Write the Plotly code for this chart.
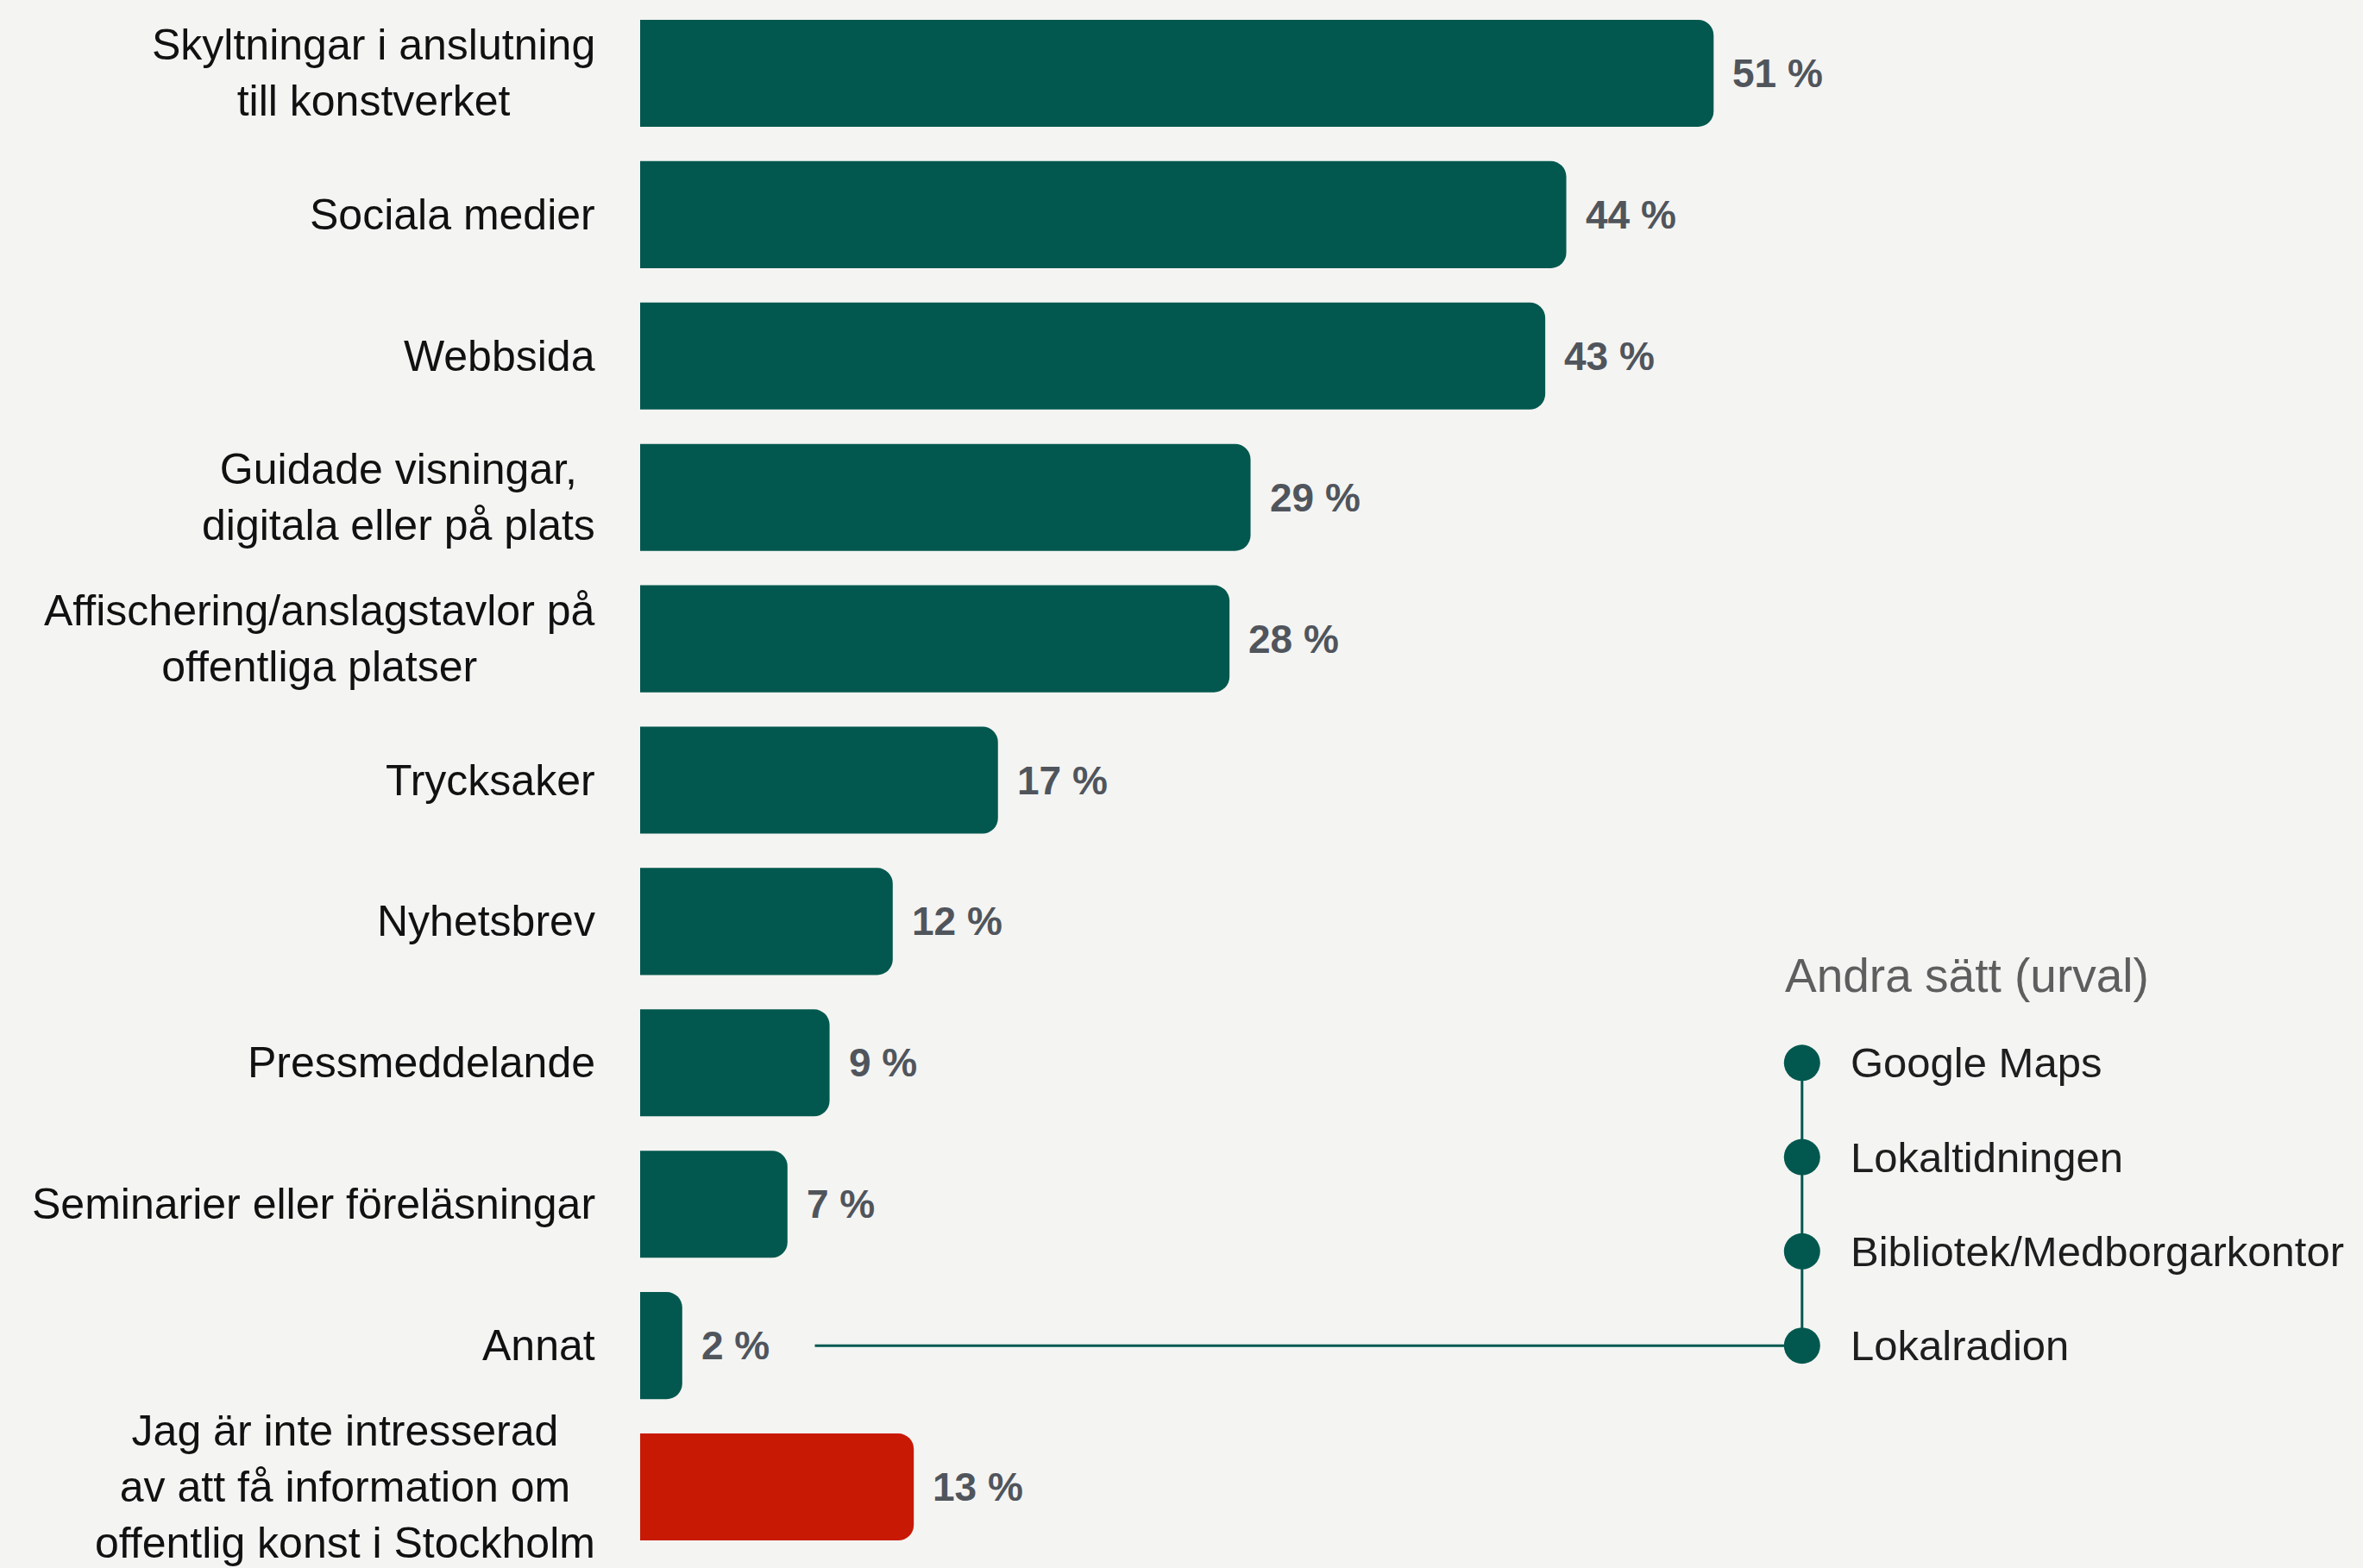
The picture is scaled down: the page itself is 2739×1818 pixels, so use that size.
import plotly.graph_objects as go

categories = [
    "Skyltningar i anslutning<br>till konstverket",
    "Sociala medier",
    "Webbsida",
    "Guidade visningar,<br>digitala eller på plats",
    "Affischering/anslagstavlor på<br>offentliga platser",
    "Trycksaker",
    "Nyhetsbrev",
    "Pressmeddelande",
    "Seminarier eller föreläsningar",
    "Annat",
    "Jag är inte intresserad<br>av att få information om<br>offentlig konst i Stockholm",
]
values = [51, 44, 43, 29, 28, 17, 12, 9, 7, 2, 13]

other_title = "Andra sätt (urval)"
other_ways = ["Google Maps", "Lokaltidningen", "Bibliotek/Medborgarkontor", "Lokalradion"]

GREEN = "#02584F"
RED = "#C81905"
BG = "#F4F4F2"
FONT = "Liberation Sans, Arial, sans-serif"

bar_colors = [GREEN] * (len(values) - 1) + [RED]
idx = list(range(len(categories)))

fig = go.Figure()

fig.add_trace(go.Bar(
    x=values, y=idx, orientation="h",
    marker=dict(color=bar_colors, cornerradius=18, line=dict(width=0)),
    hoverinfo="skip",
))

# category labels (centered multi-line, right edge near the bars)
for i, cat in enumerate(categories):
    fig.add_annotation(
        x=0, y=i, xref="x", yref="y", text=cat, showarrow=False,
        xanchor="right", yanchor="middle", align="center", xshift=-50,
        font=dict(family=FONT, size=50, color="#111111"),
    )

# value labels
for i, v in enumerate(values):
    fig.add_annotation(
        x=v, y=i, xref="x", yref="y", text=f"{v} %", showarrow=False,
        xanchor="left", yanchor="middle", xshift=20,
        font=dict(family=FONT, size=46, color="#50555C", weight="bold"),
    )

# "Andra sätt" side panel, hanging off the "Annat" row
annat = categories.index("Annat")
step = 2 / 3
pos = [annat - step * (len(other_ways) - 1 - k) for k in range(len(other_ways))]
dot_x = 55.2
line_start = 8.3

fig.add_trace(go.Scatter(
    x=[line_start, dot_x, dot_x], y=[annat, annat, pos[0]], yaxis="y2",
    mode="lines", line=dict(color=GREEN, width=3), hoverinfo="skip",
))
fig.add_trace(go.Scatter(
    x=[dot_x] * len(pos), y=pos, yaxis="y2", mode="markers",
    marker=dict(color=GREEN, size=42), hoverinfo="skip",
))
for p, name in zip(pos, other_ways):
    fig.add_annotation(
        x=dot_x, y=p, xref="x", yref="y2", text=name, showarrow=False,
        xanchor="left", yanchor="middle", xshift=54,
        font=dict(family=FONT, size=49, color="#1E1E1E"),
    )
fig.add_annotation(
    x=dot_x, y=pos[0] - 0.62, xref="x", yref="y2", text=other_title, showarrow=False,
    xanchor="left", yanchor="middle", xshift=-22,
    font=dict(family=FONT, size=55, color="#5E5E5E"),
)

yr = [len(categories) - 0.5, -0.5]
fig.update_layout(
    width=2739, height=1818,
    paper_bgcolor=BG, plot_bgcolor=BG,
    margin=dict(l=742, r=0, t=3, b=12),
    showlegend=False, bargap=0.243,
    xaxis=dict(range=[0, 81.85], visible=False, fixedrange=True),
    yaxis=dict(range=yr, visible=False, fixedrange=True),
    yaxis2=dict(range=yr, overlaying="y", visible=False, fixedrange=True),
)

fig.write_html("out.html", config={"displayModeBar": False},
               post_script="document.body.style.margin='0';document.body.style.background='%s';" % BG)
